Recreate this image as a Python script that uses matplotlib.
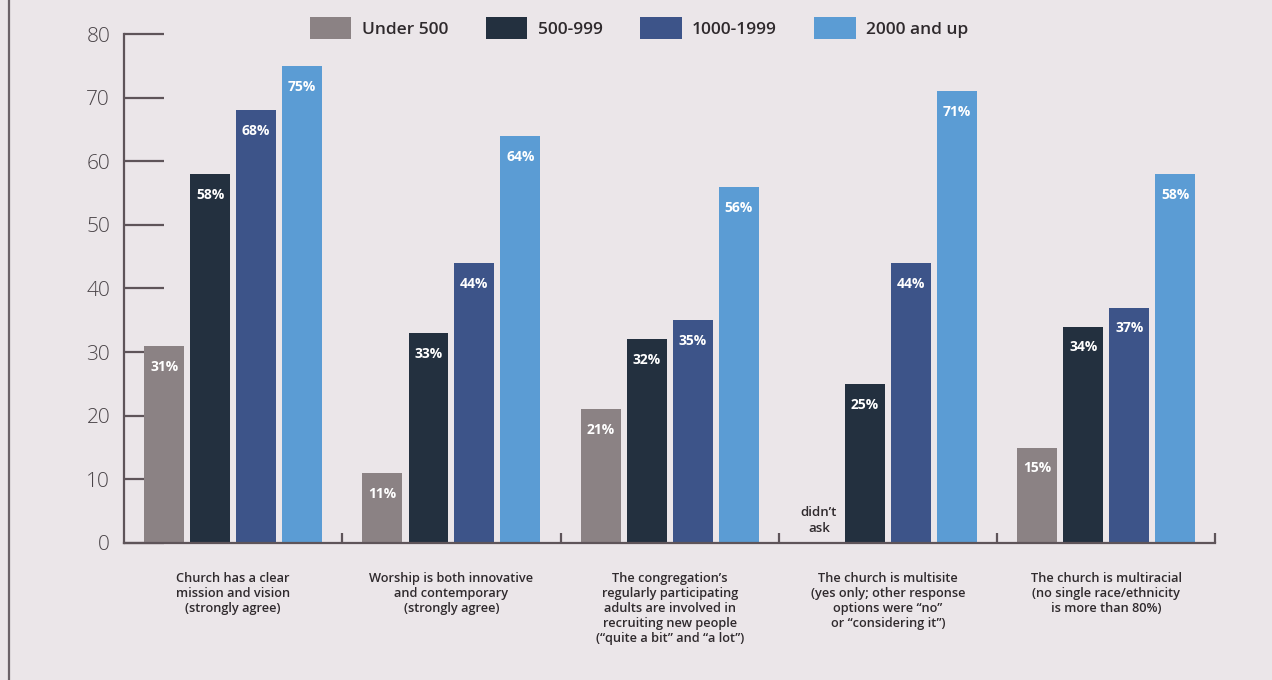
import matplotlib
matplotlib.use("Agg")
import matplotlib.pyplot as plt
from matplotlib.lines import Line2D
import numpy as np

plt.rcParams['font.family'] = ['Open Sans', 'DejaVu Sans']

categories = [
    "Church has a clear\nmission and vision\n(strongly agree)",
    "Worship is both innovative\nand contemporary\n(strongly agree)",
    "The congregation\u2019s\nregularly participating\nadults are involved in\nrecruiting new people\n(\u201cquite a bit\u201d and \u201ca lot\u201d)",
    "The church is multisite\n(yes only; other response\noptions were \u201cno\u201d\nor \u201cconsidering it\u201d)",
    "The church is multiracial\n(no single race/ethnicity\nis more than 80%)",
]
series_names = ["Under 500", "500-999", "1000-1999", "2000 and up"]
under_500 = [31, 11, 21, None, 15]      # not asked for multisite
s500_999 = [58, 33, 32, 25, 34]
s1000_1999 = [68, 44, 35, 44, 37]
s2000_up = [75, 64, 56, 71, 58]
yticks = [0, 10, 20, 30, 40, 50, 60, 70, 80]

colors = ["#8b8284", "#23303f", "#3d5489", "#5b9cd4"]
bg = "#ebe6e9"
axis_col = "#5e5459"

fig = plt.figure(figsize=(12.72, 6.8), dpi=100, facecolor=bg)
ax = fig.add_axes([0.0975, 0.2015, 0.858, 0.7485])
ax.set_facecolor("none")

x = np.arange(len(categories))
width = 0.183
offsets = [-0.316, -0.105, 0.105, 0.316]
all_series = [under_500, s500_999, s1000_1999, s2000_up]

for vals, off, col, name in zip(all_series, offsets, colors, series_names):
    for xi, v in zip(x, vals):
        if v is None:
            ax.text(xi + off, 1.2, "didn\u2019t\nask", ha="center", va="bottom",
                    fontsize=9.5, fontweight="semibold", color="#2f2a2d",
                    linespacing=1.3)
            continue
        ax.bar(xi + off, v, width, color=col, zorder=2)
        ax.annotate(f"{v}%", (xi + off, v), xytext=(0, -15),
                    textcoords="offset points", ha="center", va="center",
                    color="white", fontsize=10, fontweight="bold", zorder=3)
    ax.bar(0, 0, 0, color=col, label=name)

ax.set_xlim(-0.5, len(categories) - 0.5)
ax.set_ylim(0, 80)

for s in ["top", "right"]:
    ax.spines[s].set_visible(False)
for s in ["left", "bottom"]:
    ax.spines[s].set_color(axis_col)
    ax.spines[s].set_linewidth(1.6)

ax.set_yticks(yticks)
ax.tick_params(axis="y", direction="in", length=29, width=1.6, color=axis_col,
               pad=10, labelsize=15, labelcolor="#4a4448")
for lbl in ax.get_yticklabels():
    lbl.set_fontweight("light")

ax.set_xticks(x)
ax.set_xticklabels(categories, fontsize=9.2, fontweight="semibold",
                   color="#2f2a2d", linespacing=1.2)
ax.tick_params(axis="x", which="major", length=0, pad=21)
ax.set_xticks(np.arange(len(categories)) + 0.5, minor=True)
ax.tick_params(axis="x", which="minor", direction="in", length=7, width=1.6,
               color=axis_col)

leg = ax.legend(loc="lower center", bbox_to_anchor=(0.472, 0.96), ncol=4,
                frameon=False, handlelength=2.4, handleheight=1.55,
                handletextpad=0.6, columnspacing=2.15,
                prop={"size": 12.5, "weight": "semibold"})
for t in leg.get_texts():
    t.set_color("#2f2a2d")

fig.add_artist(Line2D([0.007, 0.007], [0, 1], transform=fig.transFigure,
                      color="#6b6268", linewidth=1.6))

fig.savefig("out.png", dpi=100, facecolor=bg)
